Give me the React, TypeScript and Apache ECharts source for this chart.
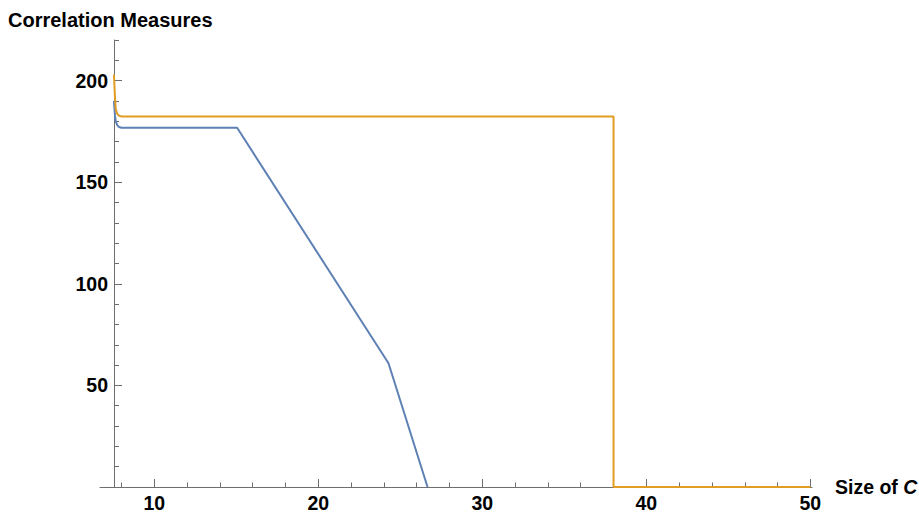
import React, { useEffect, useRef } from "react";
import * as echarts from "echarts";

// Size of C for each sample of the two correlation measures
const sizeBlue = [7.54, 7.6, 7.65, 7.75, 7.85, 8.0, 15.05, 24.28, 26.66];
const corrBlue = [190, 183, 180, 178, 177.2, 176.8, 176.8, 60.9, 0];
const sizeOrange = [7.54, 7.6, 7.65, 7.75, 7.85, 8.0, 38.0, 38.0, 50.0];
const corrOrange = [203, 192, 186, 183.5, 182.7, 182.4, 182.3, 0, 0];

// Tick positions
const xMajorTicks = [10, 20, 30, 40, 50];
const xMinorTicks = [8, 12, 14, 16, 18, 22, 24, 26, 28, 32, 34, 36, 38, 42, 44, 46, 48];
const yMajorTicks = [50, 100, 150, 200];
const yMinorTicks = [10, 20, 30, 40, 60, 70, 80, 90, 110, 120, 130, 140, 160, 170, 180, 190, 210, 220];

const X_MIN = 6.69;
const X_MAX = 50.1;
const Y_MIN = 0;
const Y_MAX = 220;

const FONT = "'Liberation Sans', Arial, Helvetica, sans-serif";
const AXIS_COLOR = "#6e6e6e";
const BLUE = "#5E81B5";
const ORANGE = "#E19C24";

export default function App() {
  const ref = useRef<HTMLDivElement>(null);

  useEffect(() => {
    if (!ref.current) return;
    const chart = echarts.init(ref.current, undefined, { renderer: "svg" });

    const gridBox = { top: 40, bottom: 26, right: 107 };
    const labelStyle = { color: "#000", fontWeight: "bold" as const, fontSize: 19.5, fontFamily: FONT };

    const option: any = {
      animation: false,
      backgroundColor: "#fff",
      grid: [
        { ...gridBox, left: 100, containLabel: false, outerBoundsMode: "none" },
        { ...gridBox, left: 114, containLabel: false, outerBoundsMode: "none" },
      ],
      xAxis: [
        {
          type: "value",
          gridIndex: 0,
          position: "bottom",
          min: X_MIN,
          max: X_MAX,
          splitLine: { show: false },
          axisLine: { show: true, onZero: false, lineStyle: { color: AXIS_COLOR, width: 1 } },
          axisTick: { show: true, inside: true, length: 8, customValues: xMajorTicks, lineStyle: { color: AXIS_COLOR } },
          axisLabel: { show: true, customValues: xMajorTicks, margin: 6, ...labelStyle },
          name: "{a|Size of }{b|C}",
          nameLocation: "end",
          nameGap: 23,
          nameTextStyle: {
            verticalAlign: "middle",
            rich: {
              a: { ...labelStyle },
              b: { ...labelStyle, fontStyle: "italic" },
            },
          },
        },
        {
          type: "value",
          gridIndex: 0,
          position: "bottom",
          min: X_MIN,
          max: X_MAX,
          splitLine: { show: false },
          axisLine: { show: false, onZero: false },
          axisTick: { show: true, inside: true, length: 4.5, customValues: xMinorTicks, lineStyle: { color: AXIS_COLOR } },
          axisLabel: { show: false },
        },
        {
          type: "value",
          gridIndex: 1,
          min: 0,
          max: 1,
          show: false,
        },
      ],
      yAxis: [
        {
          type: "value",
          gridIndex: 0,
          min: Y_MIN,
          max: Y_MAX,
          show: false,
        },
        {
          type: "value",
          gridIndex: 1,
          position: "left",
          min: Y_MIN,
          max: Y_MAX,
          splitLine: { show: false },
          axisLine: { show: true, onZero: false, lineStyle: { color: AXIS_COLOR, width: 1 } },
          axisTick: { show: true, inside: true, length: 8, customValues: yMajorTicks, lineStyle: { color: AXIS_COLOR } },
          axisLabel: { show: true, customValues: yMajorTicks, margin: 6, ...labelStyle },
        },
        {
          type: "value",
          gridIndex: 1,
          position: "left",
          offset: 0,
          min: Y_MIN,
          max: Y_MAX,
          splitLine: { show: false },
          axisLine: { show: false, onZero: false },
          axisTick: { show: true, inside: true, length: 5, customValues: yMinorTicks, lineStyle: { color: AXIS_COLOR } },
          axisLabel: { show: false },
        },
      ],
      graphic: [
        {
          type: "text",
          left: 8,
          top: 10,
          style: {
            text: "Correlation Measures",
            fill: "#000",
            font: `bold 20px ${FONT}`,
          },
        },
      ],
      series: [
        {
          type: "line",
          xAxisIndex: 0,
          yAxisIndex: 0,
          data: sizeBlue.map((x, i) => [x, corrBlue[i]]),
          showSymbol: false,
          lineStyle: { color: BLUE, width: 2 },
          itemStyle: { color: BLUE },
        },
        {
          type: "line",
          xAxisIndex: 0,
          yAxisIndex: 0,
          data: sizeOrange.map((x, i) => [x, corrOrange[i]]),
          showSymbol: false,
          lineStyle: { color: ORANGE, width: 2 },
          itemStyle: { color: ORANGE },
        },
      ],
    };

    chart.setOption(option);
    return () => chart.dispose();
  }, []);

  return (
    <div
      ref={ref}
      style={{ position: "fixed", left: 0, top: 0, width: 919, height: 513, background: "#fff" }}
    />
  );
}
